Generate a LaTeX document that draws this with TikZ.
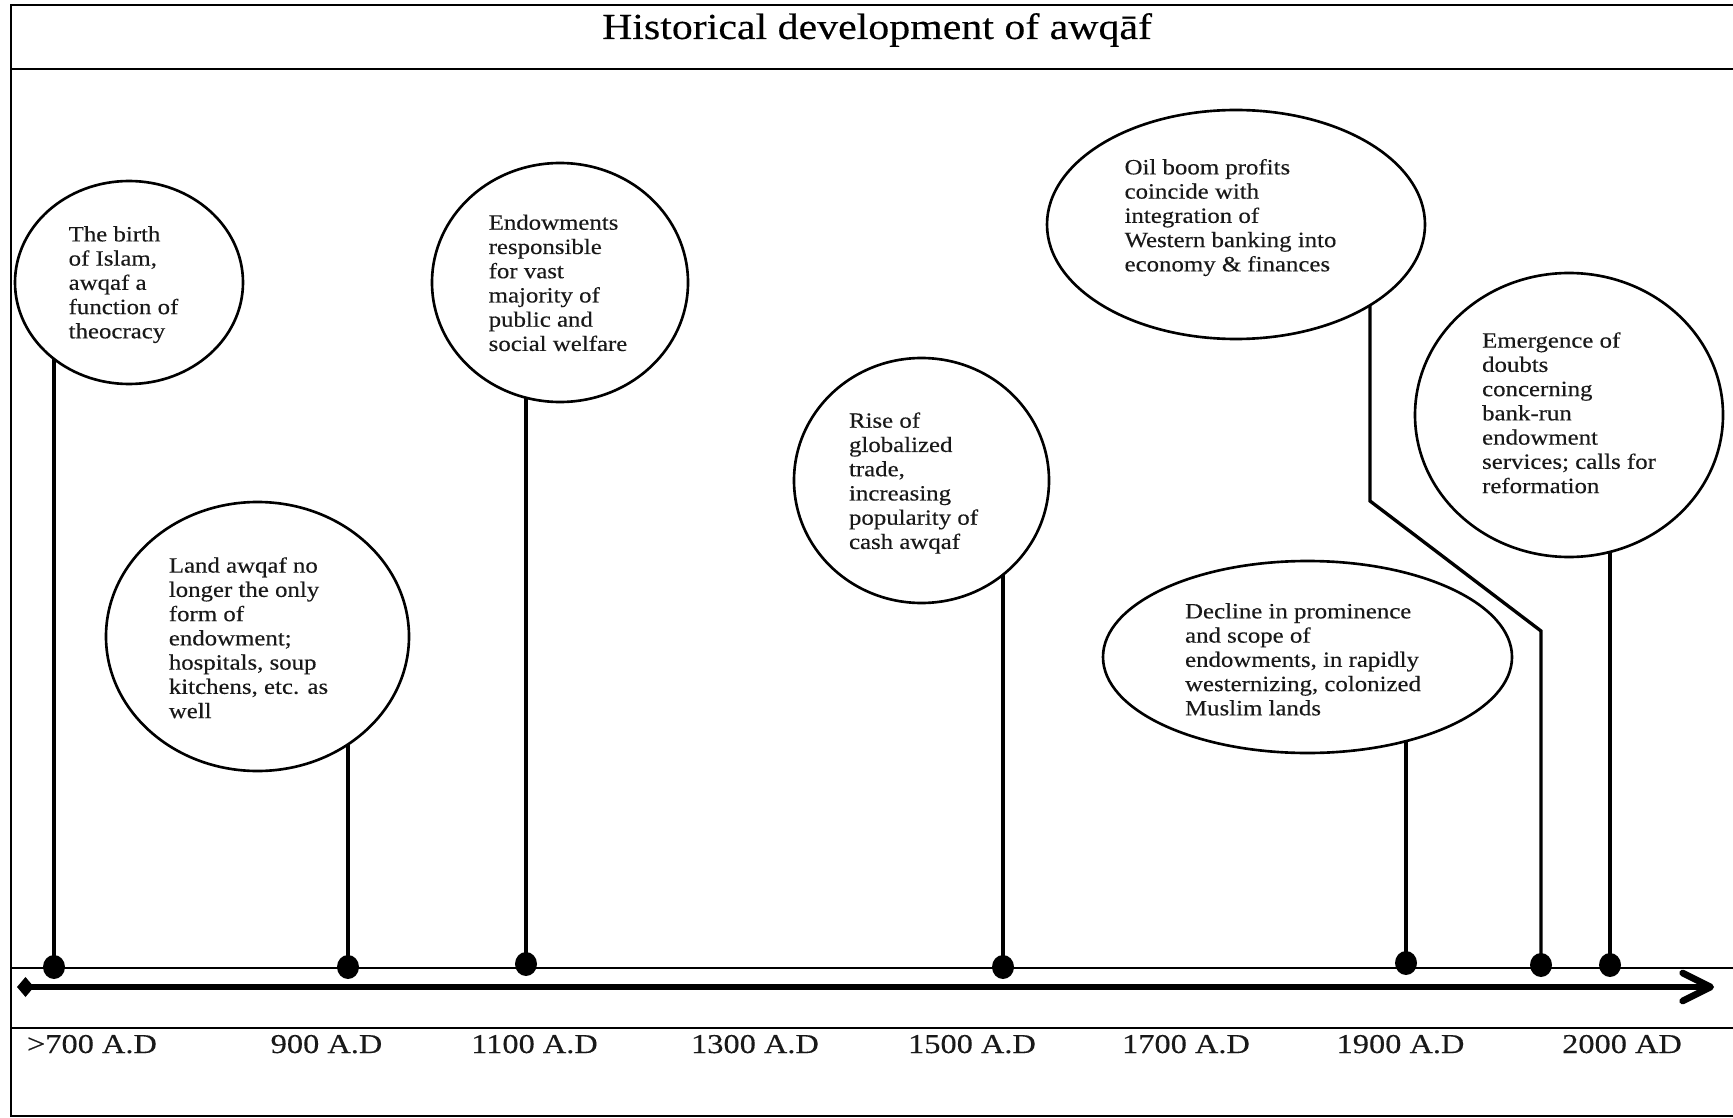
\documentclass[tikz,border=0pt]{standalone}
\usepackage{fontspec}
\setmainfont{Liberation Serif}[FakeStretch=1.14, FakeBold=0.3]
\newfontfamily\datefam{Liberation Serif}[FakeStretch=1.19, FakeBold=0.3]
\usetikzlibrary{shapes.geometric,arrows.meta,backgrounds}
\newcommand{\bubblefont}{\fontsize{12.4pt}{13.8pt}\selectfont}
\newcommand{\datefont}{\datefam\fontsize{15.5pt}{18pt}\selectfont}
\newcommand{\titlefont}{\fontsize{20.9pt}{24pt}\selectfont}
% bubble text: #1 shift left, #2 shift up, #3 lines
\newcommand{\btext}[3]{\hspace*{-#1}\raisebox{#2}[\height][\depth]{\begin{tabular}{@{}l@{}}#3\end{tabular}}\hspace*{#1}}
\begin{document}
\begin{tikzpicture}[x=0.02cm, y=-0.02cm,
  bubble/.style={ellipse, draw, line width=1.5pt, fill=white, inner sep=0pt, font=\bubblefont, text=black!90},
  tdot/.style={ellipse, fill=black, inner sep=0pt, minimum width=0.44cm, minimum height=0.48cm},
  stem/.style={line width=1.9pt},
  frameline/.style={line width=1.1pt},
  datelbl/.style={anchor=base, font=\datefont, text=black!90, inner sep=0pt}]
\useasboundingbox (0,0) rectangle (1733,1118);
% frame
\draw[frameline] (1733,5) -- (11,5) -- (11,1116) -- (1733,1116);
\draw[frameline] (11,69) -- (1733,69);
\draw[frameline] (11,968) -- (1733,968);
\draw[frameline] (11,1028) -- (1733,1028);
% title
\node[anchor=base, font=\titlefont, inner sep=0pt] (title) at (877,39) {Historical development of awqāf};
% timeline arrow
\coordinate (tlstart) at (17,987);
\coordinate (tlend) at (1714,987);
\draw[line width=3.8pt, {Diamond[length=0.34cm,width=0.40cm]}-{Straight Barb[length=0.56cm,width=0.56cm,round]}] (tlstart) -- (tlend);
% bubbles
\node[bubble, minimum width=228*0.02cm, minimum height=203*0.02cm] (e1) at (129,282.5)
  {\btext{0.11cm}{-0.05cm}{The birth\\of Islam,\\awqaf a\\function of\\theocracy}};
\node[bubble, minimum width=303*0.02cm, minimum height=269*0.02cm] (e2) at (257.5,636.5)
  {\btext{0.18cm}{-0.08cm}{Land awqaf no\\longer the only\\form of\\endowment;\\hospitals, soup\\kitchens, etc. as\\well}};
\node[bubble, minimum width=256*0.02cm, minimum height=239*0.02cm] (e3) at (560,282.5)
  {\btext{0.04cm}{-0.06cm}{Endowments\\responsible\\for vast\\majority of\\public and\\social welfare}};
\node[bubble, minimum width=255*0.02cm, minimum height=245*0.02cm] (e4) at (921.5,480.5)
  {\btext{0.16cm}{-0.06cm}{Rise of\\globalized\\trade,\\increasing\\popularity of\\cash awqaf}};
\node[bubble, minimum width=378*0.02cm, minimum height=229*0.02cm] (e5) at (1236,224.5)
  {\btext{0.11cm}{0.13cm}{Oil boom profits\\coincide with\\integration of\\Western banking into\\economy \& finances}};
\node[bubble, minimum width=409*0.02cm, minimum height=192*0.02cm] (e6) at (1307.5,657)
  {\btext{0.09cm}{-0.1cm}{Decline in prominence\\and scope of\\endowments, in rapidly\\westernizing, colonized\\Muslim lands}};
\node[bubble, minimum width=308*0.02cm, minimum height=284*0.02cm] (e7) at (1569,415)
  {\btext{0cm}{-0.01cm}{Emergence of\\doubts\\concerning\\bank-run\\endowment\\services; calls for\\reformation}};
% dots
\node[tdot] (d1) at (54,967) {};
\node[tdot] (d2) at (348,967) {};
\node[tdot] (d3) at (526,964) {};
\node[tdot] (d4) at (1003,967) {};
\node[tdot] (d5) at (1406,963) {};
\node[tdot] (d6) at (1541,965) {};
\node[tdot] (d7) at (1610,965) {};
\coordinate (b6a) at (1541,631);
\coordinate (b6b) at (1370,501);
% stems
\begin{pgfonlayer}{background}
\draw[stem] (d1.center) -- (d1 |- e1.center);
\draw[stem] (d2.center) -- (d2 |- e2.center);
\draw[stem] (d3.center) -- (d3 |- e3.center);
\draw[stem] (d4.center) -- (d4 |- e4.center);
\draw[stem] (d5.center) -- (d5 |- e6.center);
\draw[stem, line join=miter] (d6.center) -- (b6a) -- (b6b) -- (b6b |- e5.center);
\draw[stem] (d7.center) -- (d7 |- e7.center);
\end{pgfonlayer}
% dates
\node[datelbl] (y700) at (92,1053) {>700 A.D};
\node[datelbl] (y900) at (326.5,1053) {900 A.D};
\node[datelbl] (y1100) at (534.5,1053) {1100 A.D};
\node[datelbl] (y1300) at (755,1053) {1300 A.D};
\node[datelbl] (y1500) at (972,1053) {1500 A.D};
\node[datelbl] (y1700) at (1186,1053) {1700 A.D};
\node[datelbl] (y1900) at (1400.5,1053) {1900 A.D};
\node[datelbl] (y2000) at (1622,1053) {2000 AD};
\end{tikzpicture}
\end{document}
